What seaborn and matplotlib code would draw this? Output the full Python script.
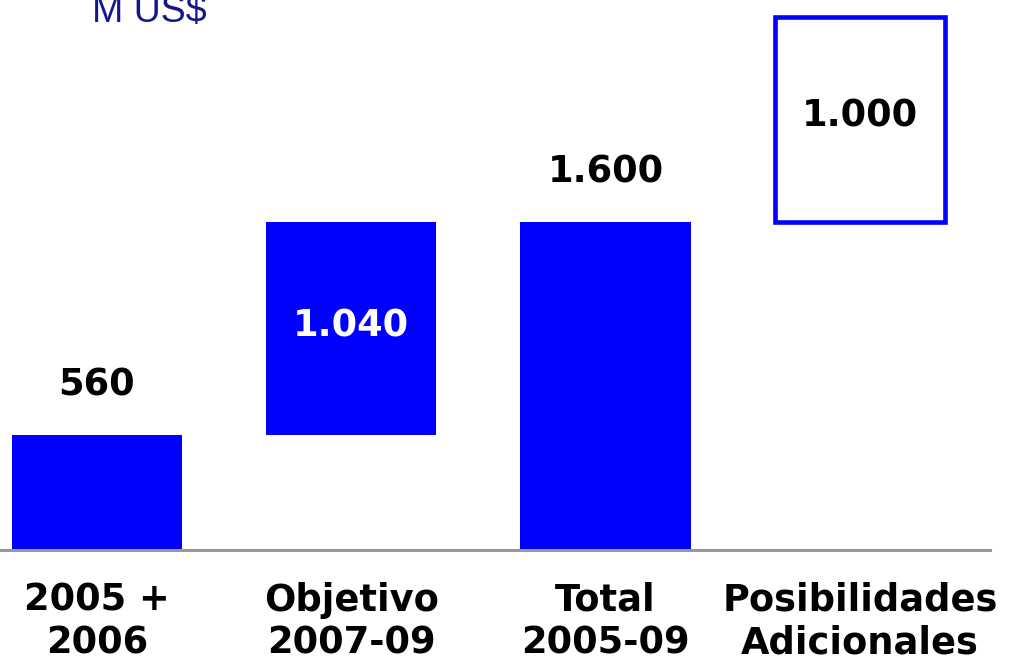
import matplotlib

matplotlib.use("Agg")
import matplotlib.pyplot as plt  # noqa: E402
import seaborn as sns  # noqa: E402

# datos del grafico (M US$)
categorias = ["2005 +\n2006", "Objetivo\n2007-09", "Total\n2005-09", "Posibilidades\nAdicionales"]
valores = [560, 1040, 1600, 1000]
bases = [0, 560, 0, 1600]
etiquetas = ["560", "1.040", "1.600", "1.000"]

AZUL = "#0000ff"

sns.set_theme(style="white")
plt.rcParams["font.family"] = ["DejaVu Sans"]

fig = plt.figure(figsize=(10.2, 6.67), dpi=100)
ax = fig.add_axes([0.0, 117 / 667, 990 / 1020, 550 / 667])

sns.barplot(x=categorias, y=valores, color=AZUL, width=0.67, saturation=1, ax=ax)

# waterfall: mover cada barra a su base
for barra, base in zip(ax.patches, bases):
    barra.set_y(base)
    barra.set_linewidth(0)

# ultima barra: solo contorno
ultima = ax.patches[3]
ultima.set_facecolor("white")
ultima.set_edgecolor(AZUL)
ultima.set_linewidth(3.3)
ultima.set_joinstyle("miter")

ax.set_xlim(-0.381, 3.511)
ax.set_ylim(0, 2683)

# etiquetas de valor
fs = 26.5
for i, (v, b, txt) in enumerate(zip(valores, bases, etiquetas)):
    if i in (0, 2):
        ax.annotate(txt, (i, b + v), xytext=(0, 36), textcoords="offset points",
                    ha="center", va="center", fontsize=fs, fontweight="bold", color="black")
    else:
        color = "white" if i == 1 else "black"
        ax.text(i, b + v / 2 + 15, txt, ha="center", va="center", fontsize=fs,
                fontweight="bold", color=color)

for lado in ["top", "right", "left"]:
    ax.spines[lado].set_visible(False)
ax.spines["bottom"].set_color("#999999")
ax.spines["bottom"].set_linewidth(2.2)
ax.set_yticks([])
ax.tick_params(axis="x", length=0, pad=23)
for lbl in ax.get_xticklabels():
    lbl.set_fontsize(fs)
    lbl.set_fontweight("bold")
    lbl.set_color("black")
    lbl.set_linespacing(1.2)
ax.set_xlabel("")
ax.set_ylabel("")
ax.patch.set_alpha(0)

fig.text(92 / 1020, 1 - 22 / 667, "M US$", fontsize=27, color="#16168c",
         family="Liberation Sans", ha="left", va="baseline")

fig.savefig("out.png", dpi=100)
